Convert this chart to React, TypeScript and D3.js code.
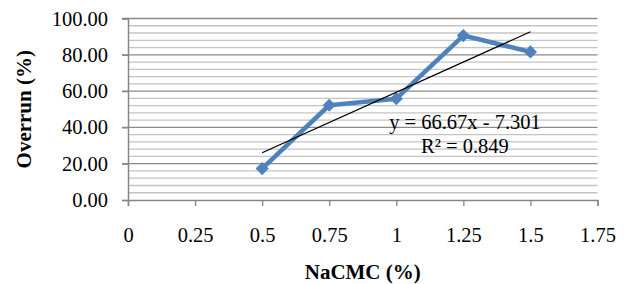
import * as d3 from "d3";
import { useRef, useEffect } from "react";

// NaCMC concentration (%) and measured overrun (%)
const nacmc = [0.5, 0.75, 1.0, 1.25, 1.5];
const overrun = [17.3, 52.2, 55.8, 90.6, 81.6];
const xTicks = [0, 0.25, 0.5, 0.75, 1, 1.25, 1.5, 1.75];
const yTicks = [0, 20, 40, 60, 80, 100];
const yMinorTicks = d3.range(0, 100.1, 4);
const trendSlope = 66.67;
const trendIntercept = -7.301;
const trendLabel = "y = 66.67x - 7.301";
const r2Label = "R\u00b2 = 0.849";

const App = () => {
    const container = useRef<SVGSVGElement>(null);

    useEffect(() => {
        const width = 626,
            height = 284,
            marginLeft = 128,
            marginRight = 28.5,
            marginTop = 18.5,
            marginBottom = 84;
        const font = "Liberation Serif";

        const svg = d3.select(container.current);
        svg.selectAll("*").remove();

        const x = d3.scaleLinear().domain([0, 1.75]).range([marginLeft, width - marginRight]);
        const y = d3.scaleLinear().domain([0, 100]).range([height - marginBottom, marginTop]);

        // minor gridlines
        svg.append("g")
            .selectAll("line")
            .data(yMinorTicks.filter(v => v % 20 !== 0))
            .join("line")
            .attr("x1", x(0))
            .attr("x2", x(1.75))
            .attr("y1", d => y(d))
            .attr("y2", d => y(d))
            .attr("stroke", "#c4c4c4")
            .attr("stroke-width", 1.3);

        // major gridlines
        svg.append("g")
            .selectAll("line")
            .data(yTicks.filter(v => v > 0))
            .join("line")
            .attr("x1", x(0) - 6)
            .attr("x2", x(1.75))
            .attr("y1", d => y(d))
            .attr("y2", d => y(d))
            .attr("stroke", "#8a8a8a")
            .attr("stroke-width", 1.3);

        // y axis
        const yAxis = svg.append("g")
            .attr("transform", `translate(${x(0)},0)`)
            .call(d3.axisLeft(y).tickValues(yTicks).tickSize(6).tickPadding(14).tickFormat(d3.format(".2f")))
            .attr("font-family", font)
            .attr("font-size", 20.5);
        yAxis.select(".domain").attr("stroke", "#868686").attr("stroke-width", 1.5);
        yAxis.selectAll(".tick line").attr("stroke", "#868686").attr("stroke-width", 1.3);
        yAxis.selectAll("text").attr("fill", "#000");

        // x axis
        const xAxis = svg.append("g")
            .attr("transform", `translate(0,${y(0)})`)
            .call(d3.axisBottom(x).tickValues(xTicks).tickSize(6).tickPadding(21).tickFormat(d => String(d)))
            .attr("font-family", font)
            .attr("font-size", 20.5);
        xAxis.select(".domain").attr("stroke", "#868686").attr("stroke-width", 1.5);
        xAxis.selectAll(".tick line").attr("stroke", "#868686").attr("stroke-width", 1.3);
        xAxis.selectAll("text").attr("fill", "#000");

        // series line
        const line = d3.line<number>()
            .x((d, i) => x(nacmc[i]))
            .y(d => y(d));
        svg.append("path")
            .datum(overrun)
            .attr("d", line)
            .attr("fill", "none")
            .attr("stroke", "#4f81bd")
            .attr("stroke-width", 4.5)
            .attr("stroke-linejoin", "round");

        svg.append("g")
            .selectAll("path")
            .data(overrun)
            .join("path")
            .attr("d", d3.symbol(d3.symbolDiamond2, 110))
            .attr("transform", (d, i) => `translate(${x(nacmc[i])},${y(d)})`)
            .attr("fill", "#4f81bd");

        // linear trendline
        const xs = d3.extent(nacmc) as [number, number];
        svg.append("line")
            .attr("x1", x(xs[0]))
            .attr("x2", x(xs[1]))
            .attr("y1", y(trendSlope * xs[0] + trendIntercept))
            .attr("y2", y(trendSlope * xs[1] + trendIntercept))
            .attr("stroke", "#000")
            .attr("stroke-width", 1.3);

        // trendline labels
        svg.append("text")
            .attr("x", 465)
            .attr("y", 129)
            .attr("text-anchor", "middle")
            .attr("font-family", font)
            .attr("font-size", 20.5)
            .text(trendLabel);
        svg.append("text")
            .attr("x", 465)
            .attr("y", 153)
            .attr("text-anchor", "middle")
            .attr("font-family", font)
            .attr("font-size", 20.5)
            .text(r2Label);

        // axis titles
        svg.append("text")
            .attr("x", (x(0) + x(1.75)) / 2)
            .attr("y", 279)
            .attr("text-anchor", "middle")
            .attr("font-family", font)
            .attr("font-weight", "bold")
            .attr("font-size", 21)
            .text("NaCMC (%)");
        svg.append("text")
            .attr("transform", `translate(31,${(y(0) + y(100)) / 2}) rotate(-90)`)
            .attr("text-anchor", "middle")
            .attr("font-family", font)
            .attr("font-weight", "bold")
            .attr("font-size", 21)
            .text("Overrun (%)");
    }, []);

    return (
        <svg
            ref={container}
            width={626}
            height={284}
            style={{ position: "absolute", left: 0, top: 0, background: "#fff" }}
        />
    );
};

export default App;
